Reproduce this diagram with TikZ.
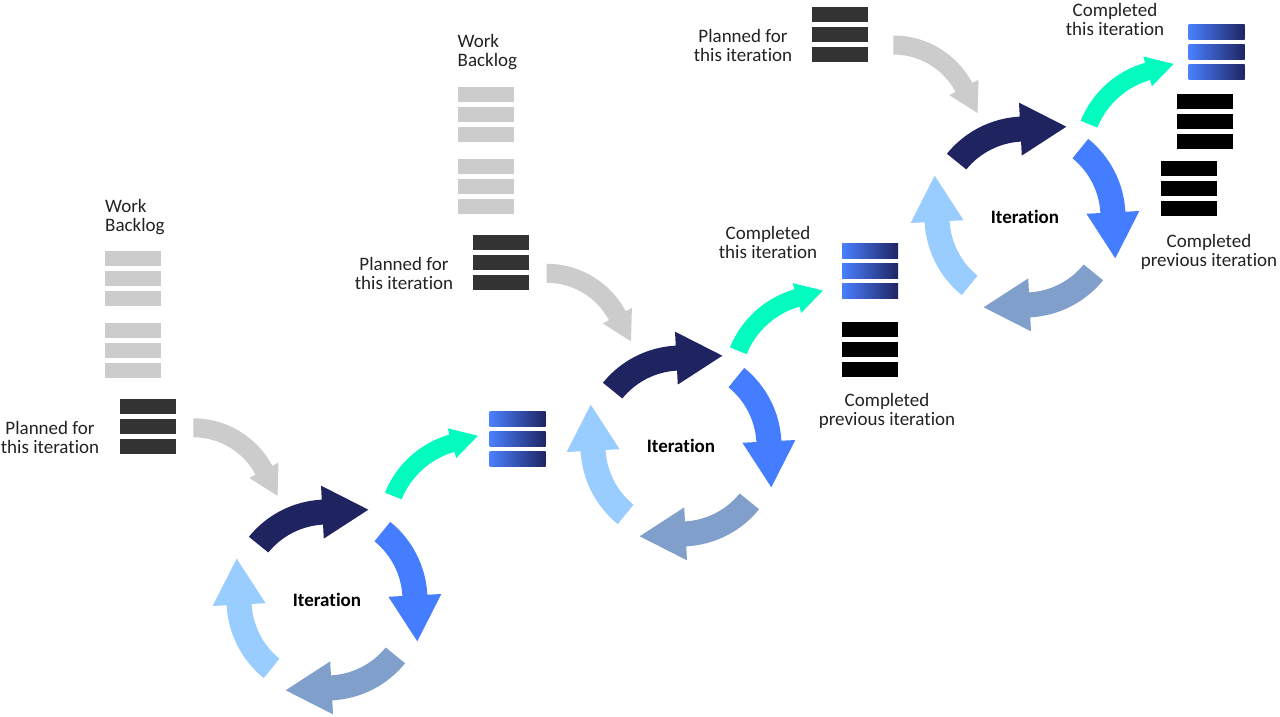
\documentclass[tikz,border=0pt]{standalone}
\usepackage{fontspec}
\setmainfont{Carlito}[Ligatures=CommonOff]
\usetikzlibrary{calc}
\definecolor{cnavy}{HTML}{1F235F}
\definecolor{cblue}{HTML}{447DFF}
\definecolor{csteel}{HTML}{819FCB}
\definecolor{clight}{HTML}{99CCFF}
\definecolor{cteal}{HTML}{03FBC0}
\definecolor{cgrey}{HTML}{CCCCCC}
\definecolor{cdark}{HTML}{333333}
\definecolor{cgradl}{HTML}{4A80FF}
\definecolor{cgradr}{HTML}{1E2563}
\definecolor{ctext}{HTML}{222222}
\tikzset{
  bar/.style={draw=none, inner sep=0pt, outer sep=0pt, minimum width=56pt, minimum height=15pt, anchor=north west},
  greybar/.style={bar, fill=cgrey},
  darkbar/.style={bar, fill=cdark},
  blackbar/.style={bar, fill=black},
  gradbar/.style={bar, left color=cgradl, right color=cgradr},
  lbl/.style={font=\fontsize{19}{19.5}\selectfont, text=ctext, align=center, anchor=base, inner sep=0pt},
  lblleft/.style={lbl, align=left, anchor=base west},
  iter/.style={font=\bfseries\fontsize{19}{20}\selectfont, inner sep=0pt},
}
% circular cycle arrow: centre, start angle, end angle, colour
\newcommand\cycarrow[4]{%
  \fill[#4] ($(#1)+(#2:75.5)$) arc[start angle=#2, end angle=#3, radius=75.5]
    -- ($(#1)+(#3:61.5)$) -- ($(#1)+(#3:88)+({#3-90}:46)$) -- ($(#1)+(#3:114.5)$)
    -- ($(#1)+(#3:100.5)$) arc[start angle=#3, end angle=#2, radius=100.5] -- cycle;}
% curved arrow: tail, heading, turn, radius, width, head width, head length, colour
\newcommand\curvarrow[8]{%
  \pgfmathsetmacro\caA{#2+90}%
  \pgfmathsetmacro\caB{#2+90-#3}%
  \pgfmathsetmacro\caRi{#4-#5/2}%
  \pgfmathsetmacro\caRo{#4+#5/2}%
  \pgfmathsetmacro\caHi{#4-#6/2}%
  \pgfmathsetmacro\caHo{#4+#6/2}%
  \coordinate (cactr) at ($(#1)+({#2-90}:#4)$);
  \fill[#8] ($(cactr)+(\caA:\caRi)$) arc[start angle=\caA, end angle=\caB, radius=\caRi]
    -- ($(cactr)+(\caB:\caHi)$) -- ($(cactr)+(\caB:#4)+({\caB-90}:#7)$) -- ($(cactr)+(\caB:\caHo)$)
    -- ($(cactr)+(\caB:\caRo)$) arc[start angle=\caB, end angle=\caA, radius=\caRo] -- cycle;}
\begin{document}
\begin{tikzpicture}[x=1pt,y=1pt]
\useasboundingbox (0,0) rectangle (1280,717);
% centres of the cycles
\coordinate (c1) at (327,717-600);
\coordinate (c2) at (681,717-446);
\coordinate (c3) at (1025,717-217);
% tails of curved arrows
\coordinate (g1) at (193.3,717-427.8);
\coordinate (g2) at (546.7,717-273.3);
\coordinate (g3) at (893.3,717-45);
\coordinate (t1) at (393.3,717-496);
\coordinate (t2) at (738.3,717-350.8);
\coordinate (t3) at (1089,717-124.2);

% cycles
\foreach \c in {c1,c2,c3}{
  \cycarrow{\c}{141}{93}{cnavy}
  \cycarrow{\c}{51}{3}{cblue}
  \cycarrow{\c}{-39}{-87}{csteel}
  \cycarrow{\c}{-129}{-177}{clight}
}
\node[iter] (it1) at (c1) {Iteration};
\node[iter] (it2) at (c2) {Iteration};
\node[iter] (it3) at (c3) {Iteration};

% incoming grey arrows
\curvarrow{g1}{0}{62}{80}{19}{33}{29}{cgrey}
\curvarrow{g2}{0}{62}{80}{19}{33}{29}{cgrey}
\curvarrow{g3}{0}{62}{80}{19}{33}{29}{cgrey}
% outgoing teal arrows
\curvarrow{t1}{68}{52}{90}{18}{31}{27}{cteal}
\curvarrow{t2}{68}{52}{90}{18}{31}{27}{cteal}
\curvarrow{t3}{68}{52}{90}{18}{31}{27}{cteal}

% ---- stage 1 ----
\node[lblleft] (wb1) at (105,717-232) {Work\\Backlog};
\foreach \y [count=\i] in {251,271,291,323,343,363}
  \node[greybar] (wb1b\i) at (105,717-\y) {};
\foreach \y [count=\i] in {399,419,439}
  \node[darkbar] (pl1b\i) at (120,717-\y) {};
\node[lbl] (pl1) at (50,717-454) {Planned for\\this iteration};
\foreach \y [count=\i] in {412,432,452}
  \node[gradbar] (ct1b\i) at (489.5,717-\y) {};

% ---- stage 2 ----
\node[lblleft] (wb2) at (457.5,717-67) {Work\\Backlog};
\foreach \y [count=\i] in {87,107,127,159.5,179.5,199.5}
  \node[greybar] (wb2b\i) at (457.5,717-\y) {};
\foreach \y [count=\i] in {235,255,275}
  \node[darkbar] (pl2b\i) at (473,717-\y) {};
\node[lbl] (pl2) at (404,717-290) {Planned for\\this iteration};
\node[lbl] (ct2) at (768,717-259) {Completed\\this iteration};
\foreach \y [count=\i] in {243.5,263.5,283.5}
  \node[gradbar] (ct2b\i) at (842,717-\y) {};
\foreach \y [count=\i] in {322,342,362}
  \node[blackbar] (cp2b\i) at (842,717-\y) {};
\node[lbl] (cp2) at (887,717-426) {Completed\\previous iteration};

% ---- stage 3 ----
\foreach \y [count=\i] in {7,27,47}
  \node[darkbar] (pl3b\i) at (812,717-\y) {};
\node[lbl] (pl3) at (743,717-62) {Planned for\\this iteration};
\node[lbl] (ct3) at (1115,717-36) {Completed\\this iteration};
\foreach \y [count=\i] in {25,45,65}
  \node[gradbar] (ct3b\i) at (1188.5,717-\y) {};
\foreach \y [count=\i] in {94.5,114.5,134.5}
  \node[blackbar] (cp3b\i) at (1177,717-\y) {};
\foreach \y [count=\i] in {161,181,201}
  \node[blackbar] (cq3b\i) at (1161,717-\y) {};
\node[lbl] (cp3) at (1209,717-267) {Completed\\previous iteration};
\end{tikzpicture}
\end{document}
